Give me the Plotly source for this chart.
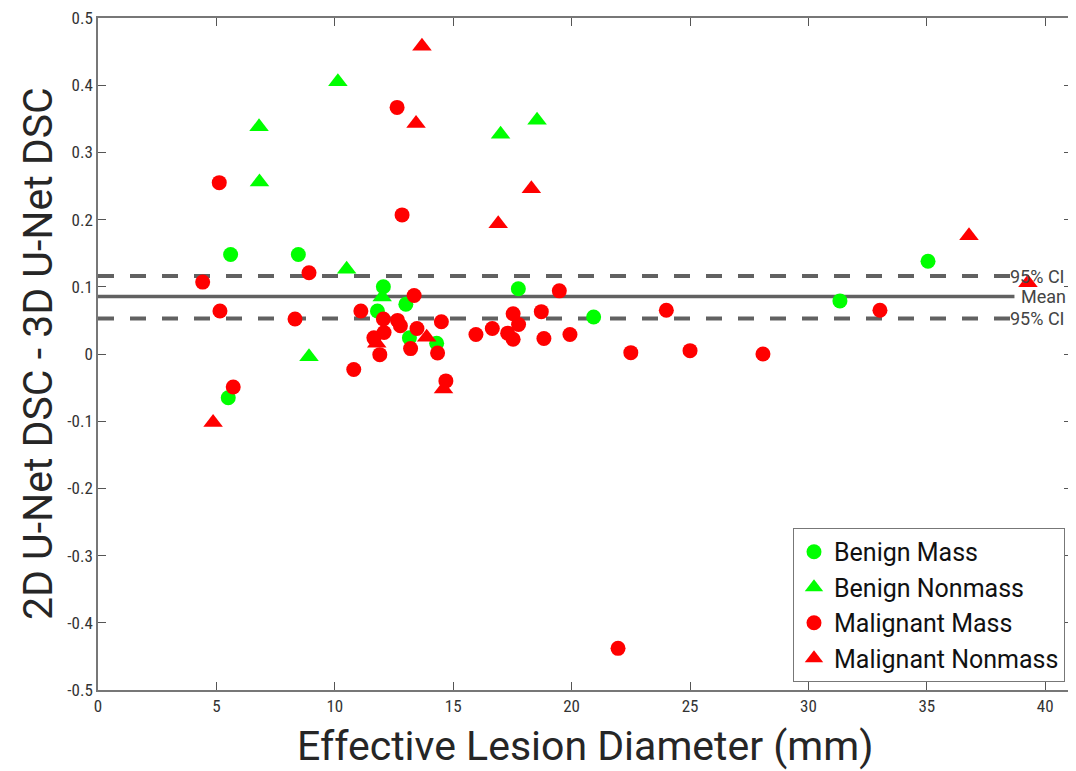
import plotly.graph_objects as go

# ---- data ----
benign_mass_x = [5.6, 5.5, 8.46, 12.05, 11.8, 13.0, 13.15, 14.3, 17.75, 20.93, 31.33, 35.05]
benign_mass_y = [0.148, -0.065, 0.148, 0.100, 0.064, 0.074, 0.024, 0.016, 0.097, 0.055, 0.079, 0.138]

benign_nonmass_x = [6.8, 6.82, 10.13, 10.5, 8.91, 17.0, 18.54, 12.0]
benign_nonmass_y = [0.338, 0.256, 0.405, 0.126, -0.004, 0.327, 0.348, 0.085]

malignant_mass_x = [5.12, 4.42, 5.15, 5.71, 8.91, 8.32, 12.63, 12.84, 10.8, 11.1,
                    11.65, 11.9, 12.08, 12.05, 12.65, 12.77, 13.35, 13.2, 13.47,
                    14.5, 14.34, 14.69, 15.96, 16.65, 17.3, 17.53, 17.53, 17.76,
                    18.72, 18.83, 19.48, 19.93, 21.96, 22.5, 24.0, 25.0, 28.08, 33.02]
malignant_mass_y = [0.255, 0.107, 0.064, -0.049, 0.121, 0.052, 0.367, 0.207, -0.023, 0.064,
                    0.024, -0.001, 0.032, 0.052, 0.050, 0.042, 0.087, 0.008, 0.038,
                    0.048, 0.0015, -0.040, 0.029, 0.038, 0.031, 0.060, 0.022, 0.044,
                    0.063, 0.023, 0.094, 0.029, -0.438, 0.002, 0.065, 0.005, 0.0, 0.065]

malignant_nonmass_x = [4.86, 13.68, 13.43, 16.9, 18.3, 36.78, 39.27, 14.59, 13.88, 11.77]
malignant_nonmass_y = [-0.102, 0.458, 0.343, 0.194, 0.246, 0.176, 0.106, -0.052, 0.025, 0.016]

mean_diff = 0.0856
ci_upper = 0.116
ci_lower = 0.0527
line_x = [0, 38.7]

x_ticks = [0, 5, 10, 15, 20, 25, 30, 35, 40]
y_ticks = [0.5, 0.4, 0.3, 0.2, 0.1, 0, -0.1, -0.2, -0.3, -0.4, -0.5]
y_tick_labels = ["0.5", "0.4", "0.3", "0.2", "0.1", "0", "-0.1", "-0.2", "-0.3", "-0.4", "-0.5"]

GREEN = "#00FF00"
RED = "#FF0000"
LINE = "rgba(80,80,80,0.9)"
tick_font = dict(family="Liberation Sans Narrow, Arial Narrow, Roboto Condensed, sans-serif", size=17, color="#333333")
title_font = dict(family="Roboto, sans-serif", size=41, color="#262626")

fig = go.Figure()

# reference lines
fig.add_trace(go.Scatter(x=line_x, y=[ci_upper, ci_upper], mode="lines",
                         line=dict(color=LINE, width=4, dash="16px,16px"),
                         showlegend=False, hoverinfo="skip"))
fig.add_trace(go.Scatter(x=line_x, y=[mean_diff, mean_diff], mode="lines",
                         line=dict(color=LINE, width=3.5),
                         showlegend=False, hoverinfo="skip"))
fig.add_trace(go.Scatter(x=line_x, y=[ci_lower, ci_lower], mode="lines",
                         line=dict(color=LINE, width=4, dash="16px,16px"),
                         showlegend=False, hoverinfo="skip"))

fig.add_trace(go.Scatter(x=benign_mass_x, y=benign_mass_y, mode="markers", name="Benign Mass",
                         marker=dict(symbol="circle", size=15, color=GREEN, line=dict(width=0))))
fig.add_trace(go.Scatter(x=benign_nonmass_x, y=benign_nonmass_y, mode="markers", name="Benign Nonmass",
                         marker=dict(symbol="triangle-up", size=17, color=GREEN, line=dict(width=0))))
fig.add_trace(go.Scatter(x=malignant_mass_x, y=malignant_mass_y, mode="markers", name="Malignant Mass",
                         marker=dict(symbol="circle", size=15, color=RED, line=dict(width=0))))
fig.add_trace(go.Scatter(x=malignant_nonmass_x, y=malignant_nonmass_y, mode="markers", name="Malignant Nonmass",
                         marker=dict(symbol="triangle-up", size=17, color=RED, line=dict(width=0))))

label_font = dict(family="Roboto, sans-serif", size=18, color="#444444")
for yv, txt, xv in [(ci_upper, "95% CI", 38.45), (mean_diff, "Mean", 38.95), (ci_lower, "95% CI", 38.45)]:
    fig.add_annotation(x=xv, xref="x", y=yv, yref="y", text=txt, showarrow=False,
                       xanchor="left", yanchor="middle", font=label_font, borderpad=0)

# axis titles
fig.add_annotation(x=0.5, xref="paper", y=0, yref="paper", yshift=-56, text="Effective Lesion Diameter (mm)",
                   showarrow=False, xanchor="center", yanchor="middle", font=title_font)
fig.add_annotation(x=0, xref="paper", xshift=-60, y=0.5, yref="paper", text="2D U-Net DSC - 3D U-Net DSC",
                   showarrow=False, xanchor="center", yanchor="middle", textangle=-90, font=title_font)

# the page body adds an 8px margin, so the figure is 8px smaller than the window
fig.update_layout(
    width=1068, height=763,
    margin=dict(l=90, r=4, t=10, b=81, autoexpand=False),
    paper_bgcolor="white", plot_bgcolor="white",
    legend=dict(x=0.9928, y=0.012, xanchor="right", yanchor="bottom",
                bordercolor="#777777", borderwidth=1, bgcolor="white",
                font=dict(family="Roboto, sans-serif", size=25, color="#111111"),
                itemsizing="trace", tracegroupgap=0),
    showlegend=True,
)

fig.update_xaxes(range=[0, 41.13], tickvals=x_ticks, ticktext=[str(v) for v in x_ticks],
                 ticks="inside", ticklen=8, tickcolor="#555555", tickwidth=1,
                 showline=True, linecolor="#777777", linewidth=1.5, mirror="ticks",
                 showgrid=False, zeroline=False, tickfont=tick_font, automargin=False,
                 ticklabeloverflow="allow")
fig.update_yaxes(range=[-0.5, 0.5], tickvals=y_ticks, ticktext=y_tick_labels,
                 ticks="inside", ticklen=8, tickcolor="#555555", tickwidth=1,
                 showline=True, linecolor="#777777", linewidth=1.5, mirror="ticks",
                 showgrid=False, zeroline=False, tickfont=tick_font, automargin=False,
                 ticklabeloverflow="allow")

fig.write_html("out.html")
